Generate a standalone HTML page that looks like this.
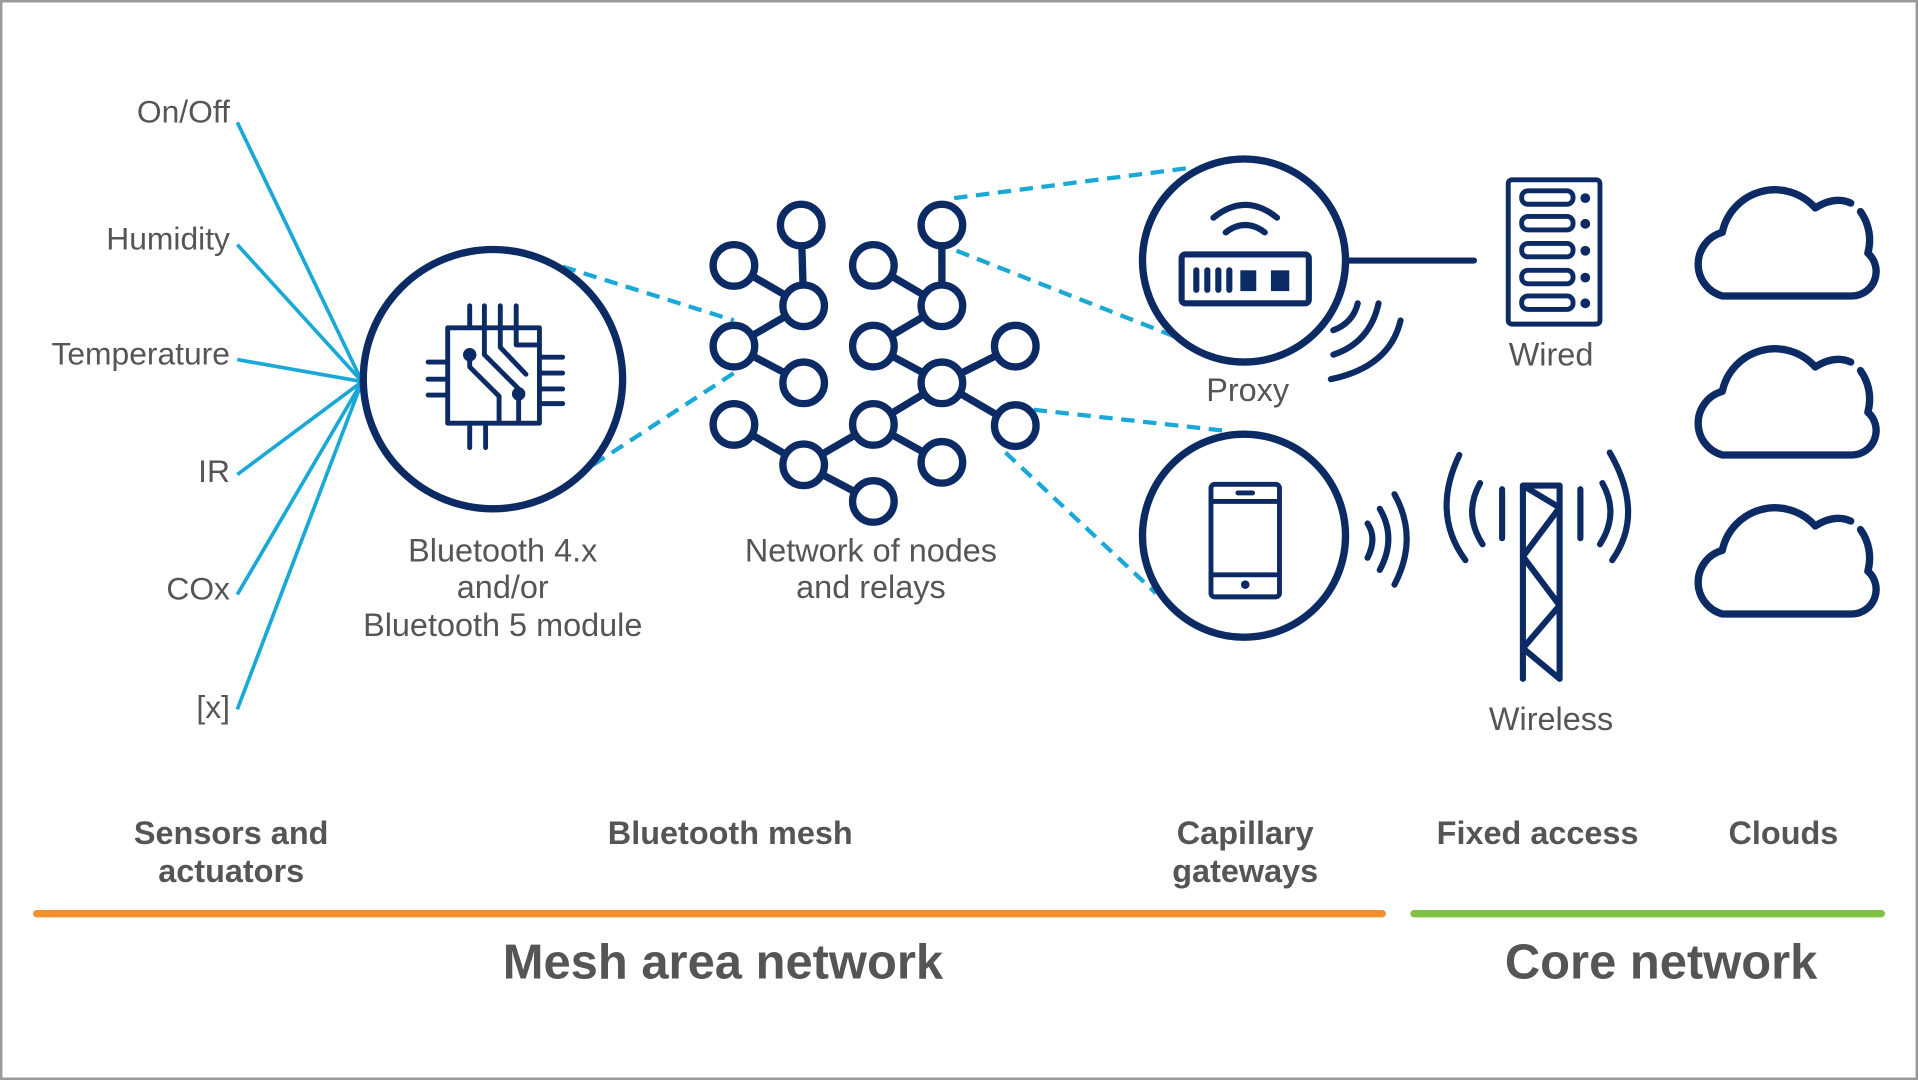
<!DOCTYPE html>
<html><head><meta charset="utf-8"><style>
html,body{margin:0;padding:0;background:#fff}
svg{display:block}
text{font-family:"Liberation Sans",Arial,sans-serif}
</style></head><body>
<svg width="1918" height="1080" viewBox="0 0 1568 883" preserveAspectRatio="none" xmlns="http://www.w3.org/2000/svg">
<defs>
<g id="cloud" fill="none" stroke="#0c2a63" stroke-width="6" stroke-linecap="round" stroke-linejoin="round">
<path d="M1484 170A44 44 0 0 0 1408 190A27 27 0 0 0 1408 242H1514A20 20 0 0 0 1527 207A40 40 0 0 0 1521 173"/>
<path d="M1484 170Q1500 160 1513 166"/>
</g>
</defs>
<rect x="1" y="1" width="1566" height="881" fill="#fff" stroke="#9a9a9a" stroke-width="2"/>
<g fill="#555" font-size="26" text-anchor="end">
<text x="188" y="100">On/Off</text>
<text x="188" y="204">Humidity</text>
<text x="188" y="298">Temperature</text>
<text x="188" y="394">IR</text>
<text x="188" y="490">COx</text>
<text x="188" y="587">[x]</text>
</g>
<g stroke="#1aa8d6" stroke-width="3" fill="none">
<line x1="194" y1="100" x2="296" y2="312"/>
<line x1="194" y1="200" x2="296" y2="312"/>
<line x1="194" y1="294" x2="296" y2="312"/>
<line x1="194" y1="388" x2="296" y2="312"/>
<line x1="194" y1="486" x2="296" y2="312"/>
<line x1="194" y1="580" x2="296" y2="312"/>
</g>
<g stroke="#1aa8d6" stroke-width="3.5" fill="none" stroke-dasharray="11,7">
<line x1="460" y1="218" x2="600" y2="262"/>
<line x1="485" y1="380" x2="600" y2="305"/>
<line x1="780" y1="162" x2="975" y2="137"/>
<line x1="782" y1="205" x2="960" y2="275"/>
<line x1="845" y1="335" x2="1000" y2="352"/>
<line x1="822" y1="370" x2="945" y2="485"/>
</g>
<g stroke="#0c2a63" fill="none" stroke-linecap="round" stroke-linejoin="round">
<circle cx="403" cy="310" r="106" stroke-width="6"/>
<g stroke-width="4">
<rect x="366" y="268" width="75" height="78"/>
<path d="M384 250V268M396 250V268M409 250V268M422 250V268M384 346V366M397 346V366M350 296H366M350 310H366M350 323H366M441 292H460M441 305H460M441 318H460M441 330H460"/>
<path d="M384 288V300L408 324V346M396 268V290L424 318V346M409 268V284L430 306M422 268V282H441"/>
<circle cx="384" cy="290" r="3.5"/><circle cx="424" cy="322" r="3.5"/>
</g>
<g stroke-width="6">
<path d="M655 184L657 250M600 217L657 250M657 250L600 283M600 283L657 313M657 380L600 347M657 380L714 347M657 380L714 410M714 217L770 250M770 184L770 250M770 250L714 283M714 283L770 313M770 313L830 283M770 313L830 348M770 313L714 347M714 347L770 378"/>
</g>
<g stroke-width="6" fill="#fff">
<circle cx="655" cy="184" r="17"/><circle cx="600" cy="217" r="17"/><circle cx="657" cy="250" r="17"/>
<circle cx="600" cy="283" r="17"/><circle cx="657" cy="313" r="17"/><circle cx="600" cy="347" r="17"/>
<circle cx="657" cy="380" r="17"/><circle cx="714" cy="410" r="17"/><circle cx="714" cy="217" r="17"/>
<circle cx="770" cy="184" r="17"/><circle cx="770" cy="250" r="17"/><circle cx="714" cy="283" r="17"/>
<circle cx="770" cy="313" r="17"/><circle cx="830" cy="283" r="17"/><circle cx="830" cy="348" r="17"/>
<circle cx="714" cy="347" r="17"/><circle cx="770" cy="378" r="17"/>
</g>
<circle cx="1017" cy="213" r="83" stroke-width="6"/>
<line x1="1100" y1="213" x2="1205" y2="213" stroke-width="5"/>
<g stroke-width="5">
<rect x="966" y="208" width="104" height="40" rx="3"/>
<path d="M978 221V237M987 221V237M996 221V237M1005 221V237"/>
<path d="M992 178Q1018 157 1044 178M1002 190Q1018 178 1034 190"/>
</g>
<rect x="1014" y="221" width="13" height="17" fill="#0c2a63" stroke="none"/>
<rect x="1039" y="221" width="15" height="17" fill="#0c2a63" stroke="none"/>
<g stroke-width="5">
<path d="M1090 270Q1106 264 1110 248M1090 290Q1120 280 1127 248M1088 310Q1136 300 1145 262"/>
</g>
<circle cx="1017" cy="438" r="83" stroke-width="6"/>
<g stroke-width="4">
<rect x="990" y="396" width="56" height="92" rx="3"/>
<path d="M990 410H1046M990 470H1046M1012 403H1024"/>
</g>
<circle cx="1018" cy="478" r="3.5" fill="#0c2a63" stroke="none"/>
<g stroke-width="5">
<path d="M1118 428Q1126 440 1118 456M1128 416Q1142 440 1128 466M1140 404Q1160 440 1140 478"/>
</g>
<g stroke-width="4">
<rect x="1233" y="147" width="75" height="118" rx="3"/>
<rect x="1244" y="156" width="42" height="11" rx="5"/>
<rect x="1244" y="177" width="42" height="11" rx="5"/>
<rect x="1244" y="199" width="42" height="11" rx="5"/>
<rect x="1244" y="221" width="42" height="11" rx="5"/>
<rect x="1244" y="242" width="42" height="11" rx="5"/>
</g>
<g fill="#0c2a63" stroke="none">
<circle cx="1296" cy="162" r="4"/><circle cx="1296" cy="183" r="4"/><circle cx="1296" cy="205" r="4"/><circle cx="1296" cy="227" r="4"/><circle cx="1296" cy="248" r="4"/>
</g>
<g stroke-width="5">
<path d="M1245 555V397H1275V555M1245 397L1275 415L1245 455L1275 495L1245 530L1275 555"/>
<path d="M1228 400V440M1292 400V440"/>
<path d="M1210 395Q1196 420 1212 445M1193 372Q1170 420 1198 458M1310 395Q1324 420 1308 445M1316 370Q1345 420 1318 458"/>
</g>
</g>
<use href="#cloud"/>
<use href="#cloud" transform="translate(0,130)"/>
<use href="#cloud" transform="translate(0,260)"/>
<g fill="#555" font-size="26.5" text-anchor="middle">
<text x="411" y="459">Bluetooth 4.x</text>
<text x="411" y="489">and/or</text>
<text x="411" y="520">Bluetooth 5 module</text>
<text x="712" y="459">Network of nodes</text>
<text x="712" y="489">and relays</text>
<text x="1020" y="328">Proxy</text>
<text x="1268" y="299">Wired</text>
<text x="1268" y="597">Wireless</text>
</g>
<g fill="#555" font-size="26.5" font-weight="bold" text-anchor="middle">
<text x="189" y="690">Sensors and</text>
<text x="189" y="721">actuators</text>
<text x="597" y="690">Bluetooth mesh</text>
<text x="1018" y="690">Capillary</text>
<text x="1018" y="721">gateways</text>
<text x="1257" y="690">Fixed access</text>
<text x="1458" y="690">Clouds</text>
<text x="591" y="800" font-size="40">Mesh area network</text>
<text x="1358" y="800" font-size="40">Core network</text>
</g>
<line x1="30" y1="747" x2="1130" y2="747" stroke="#f0912b" stroke-width="6" stroke-linecap="round"/>
<line x1="1156" y1="747" x2="1538" y2="747" stroke="#7dc242" stroke-width="6" stroke-linecap="round"/>
</svg>
</body></html>
